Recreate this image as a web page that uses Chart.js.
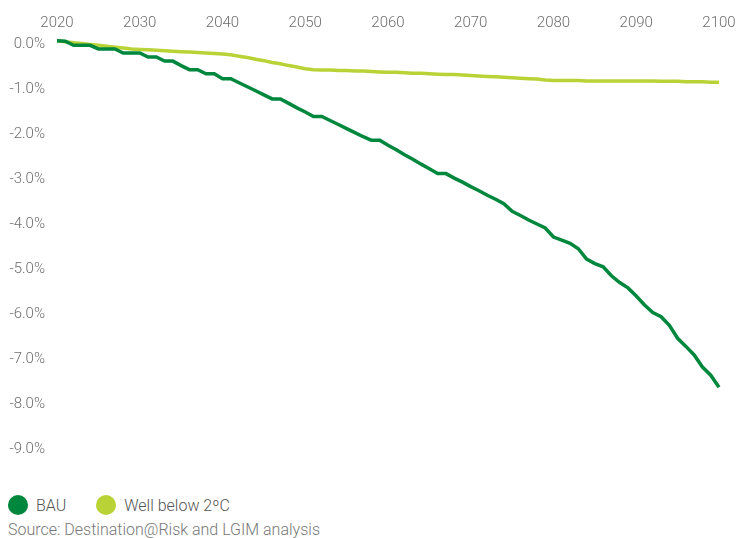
<!DOCTYPE html>
<html lang="en">
<head>
  <meta charset="UTF-8">
  <title>BAU vs Well below 2ºC</title>
  <script src="https://cdn.jsdelivr.net/npm/chart.js"></script>
  <style>
    body {
      margin: 0;
      background: #fff;
      font-family: Roboto, "Open Sans", sans-serif;
      font-weight: 300;
    }
    #wrap {
      position: relative;
      width: 737px;
      height: 538px;
    }
    #chart-box {
      position: absolute;
      left: 0;
      top: 0;
      width: 737px;
      height: 478px;
    }
    #legend {
      position: absolute;
      left: 8px;
      top: 495px;
      display: flex;
      align-items: center;
      font-size: 16px;
      color: #555;
    }
    .item {
      display: flex;
      align-items: center;
      margin-right: 30px;
    }
    .dot {
      width: 20px;
      height: 20px;
      border-radius: 50%;
      margin-right: 8px;
    }
    #source {
      position: absolute;
      left: 8px;
      top: 521px;
      font-size: 16px;
      line-height: 18px;
      color: #777;
    }
  </style>
</head>
<body>
  <div id="wrap">
    <div id="chart-box"><canvas id="lossChart"></canvas></div>
    <div id="legend"></div>
    <div id="source">Source: Destination@Risk and LGIM analysis</div>
  </div>

  <script>
    const years = [
      2020, 2021, 2022, 2023, 2024, 2025, 2026, 2027, 2028, 2029,
      2030, 2031, 2032, 2033, 2034, 2035, 2036, 2037, 2038, 2039,
      2040, 2041, 2042, 2043, 2044, 2045, 2046, 2047, 2048, 2049,
      2050, 2051, 2052, 2053, 2054, 2055, 2056, 2057, 2058, 2059,
      2060, 2061, 2062, 2063, 2064, 2065, 2066, 2067, 2068, 2069,
      2070, 2071, 2072, 2073, 2074, 2075, 2076, 2077, 2078, 2079,
      2080, 2081, 2082, 2083, 2084, 2085, 2086, 2087, 2088, 2089,
      2090, 2091, 2092, 2093, 2094, 2095, 2096, 2097, 2098, 2099,
      2100
    ];

    const bau = [
      0.07, 0.06, -0.03, -0.03, -0.03, -0.11, -0.11, -0.11, -0.20, -0.20,
      -0.20, -0.29, -0.29, -0.38, -0.38, -0.48, -0.57, -0.57, -0.66, -0.66,
      -0.77, -0.77, -0.86, -0.95, -1.04, -1.13, -1.22, -1.22, -1.32, -1.42,
      -1.51, -1.61, -1.61, -1.70, -1.79, -1.88, -1.97, -2.06, -2.14, -2.14,
      -2.25, -2.35, -2.46, -2.56, -2.67, -2.77, -2.88, -2.88, -2.98, -3.07,
      -3.17, -3.26, -3.36, -3.45, -3.55, -3.72, -3.81, -3.91, -4.00, -4.09,
      -4.29, -4.36, -4.43, -4.55, -4.78, -4.88, -4.95, -5.15, -5.30, -5.42,
      -5.60, -5.80, -5.97, -6.06, -6.25, -6.54, -6.72, -6.91, -7.18, -7.36,
      -7.63
    ];

    const wellBelow = [
      0.07, 0.05, 0.03, 0.01, -0.01, -0.03, -0.05, -0.07, -0.09, -0.11,
      -0.12, -0.13, -0.14, -0.15, -0.16, -0.17, -0.18, -0.19, -0.20, -0.21,
      -0.22, -0.24, -0.27, -0.30, -0.34, -0.37, -0.41, -0.44, -0.48, -0.51,
      -0.55, -0.57, -0.58, -0.58, -0.59, -0.59, -0.60, -0.60, -0.61, -0.62,
      -0.63, -0.63, -0.64, -0.65, -0.65, -0.66, -0.67, -0.68, -0.68, -0.69,
      -0.70, -0.71, -0.72, -0.73, -0.74, -0.75, -0.76, -0.77, -0.78, -0.80,
      -0.81, -0.81, -0.81, -0.81, -0.82, -0.82, -0.82, -0.82, -0.82, -0.82,
      -0.82, -0.82, -0.82, -0.83, -0.83, -0.83, -0.84, -0.84, -0.84, -0.85,
      -0.85
    ];

    const seriesNames = ['BAU', 'Well below 2ºC'];
    const seriesColors = ['#00873e', '#b9d236'];

    const tickFont = { family: 'Roboto', size: 15, weight: '300' };
    const tickColor = '#6e6e6e';

    function toPoints(values) {
      return years.map((y, i) => ({ x: y, y: values[i] }));
    }

    const chart = new Chart(document.getElementById('lossChart'), {
      type: 'line',
      data: {
        datasets: [
          {
            label: seriesNames[0],
            data: toPoints(bau),
            borderColor: seriesColors[0],
            backgroundColor: seriesColors[0],
            borderWidth: 3.5,
            pointRadius: 0,
            tension: 0,
            clip: false
          },
          {
            label: seriesNames[1],
            data: toPoints(wellBelow),
            borderColor: seriesColors[1],
            backgroundColor: seriesColors[1],
            borderWidth: 3.5,
            pointRadius: 0,
            tension: 0,
            clip: false
          }
        ]
      },
      options: {
        responsive: true,
        maintainAspectRatio: false,
        animation: false,
        layout: {
          padding: { left: 8, right: 18, top: 3, bottom: 29 }
        },
        plugins: {
          legend: { display: false },
          tooltip: { enabled: false }
        },
        scales: {
          x: {
            type: 'linear',
            position: 'top',
            min: 2020,
            max: 2100,
            grid: { display: false, drawTicks: false },
            border: { display: false },
            ticks: {
              stepSize: 10,
              padding: 12,
              color: tickColor,
              font: tickFont,
              maxRotation: 0,
              callback: v => String(v)
            },
            // let the last year label run up to the edge like the original
            afterFit: s => {
              s.height = 41;
              s.paddingLeft = 0;
              s.paddingRight = 0;
            }
          },
          y: {
            min: -9,
            max: 0,
            grid: { display: false, drawTicks: false },
            border: { display: false },
            ticks: {
              stepSize: 1,
              padding: 12,
              color: tickColor,
              font: tickFont,
              callback: v => v.toFixed(1) + '%'
            },
            afterFit: s => { s.width = 49; }
          }
        }
      }
    });

    // legend in html, built from the datasets
    const legend = document.getElementById('legend');
    chart.data.datasets.forEach(ds => {
      const item = document.createElement('div');
      item.className = 'item';
      const dot = document.createElement('span');
      dot.className = 'dot';
      dot.style.background = ds.borderColor;
      const txt = document.createElement('span');
      txt.textContent = ds.label;
      item.appendChild(dot);
      item.appendChild(txt);
      legend.appendChild(item);
    });
  </script>
</body>
</html>
